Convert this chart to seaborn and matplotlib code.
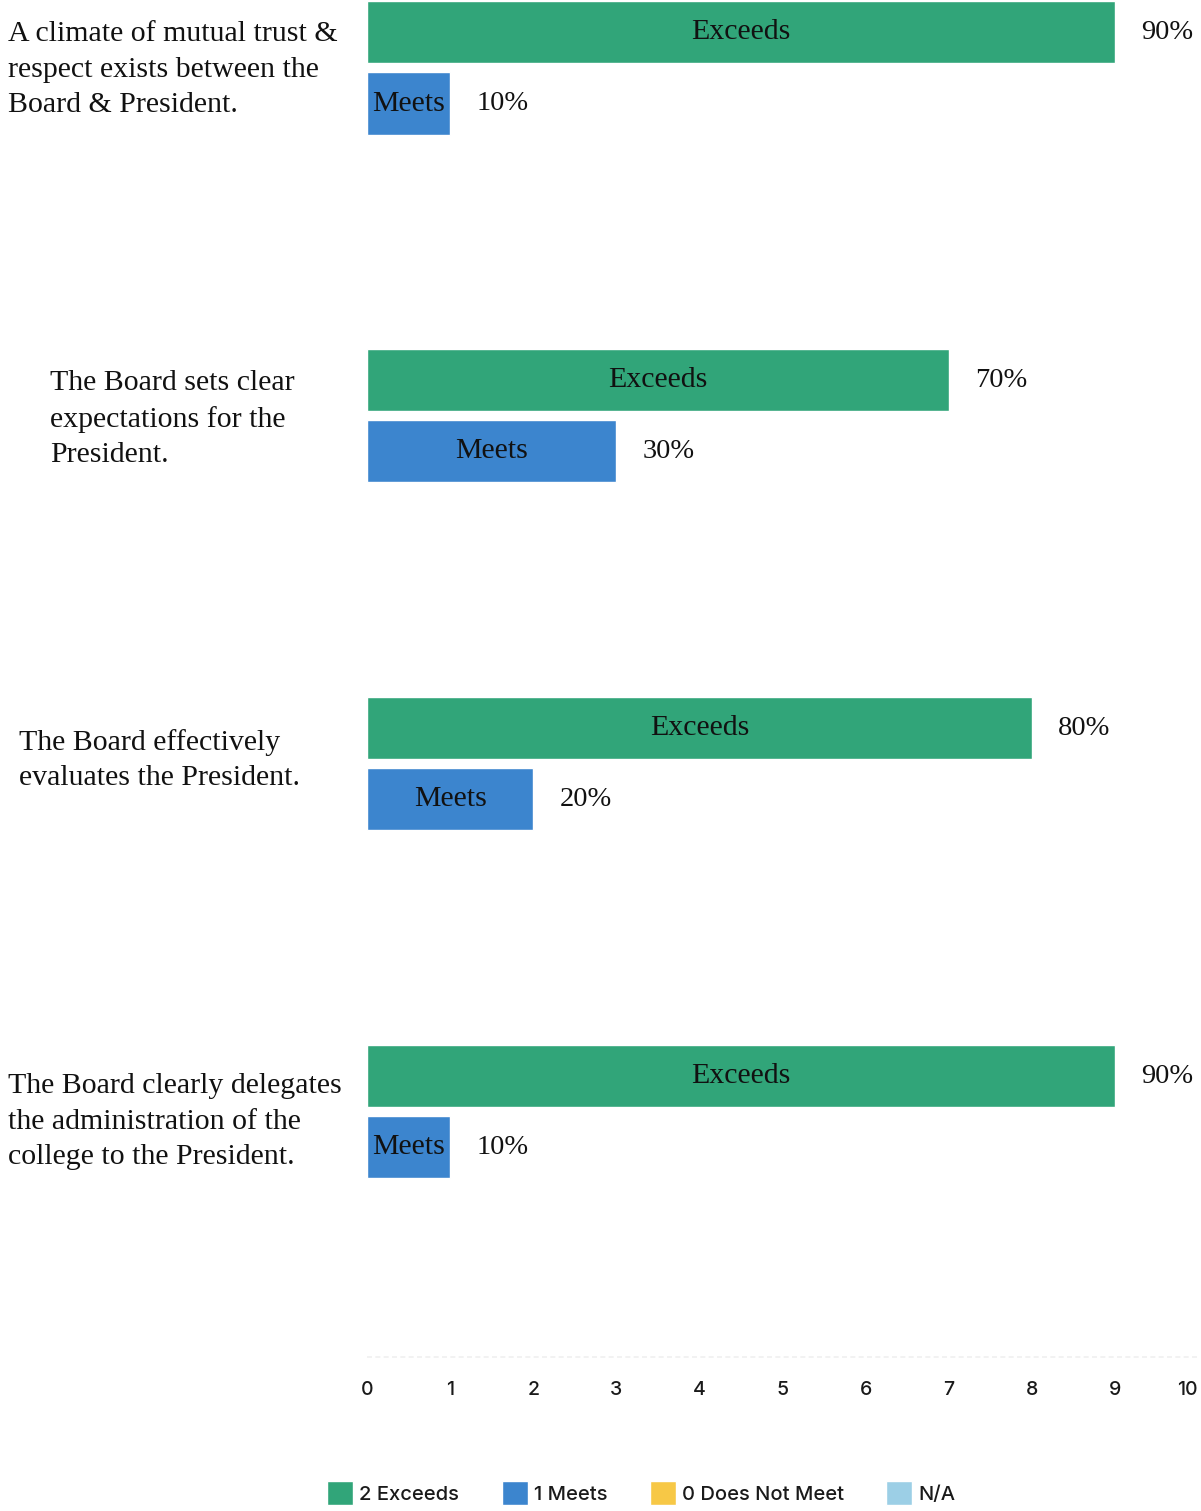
import matplotlib
matplotlib.use("Agg")
import matplotlib.pyplot as plt
import matplotlib.transforms as mtransforms
import seaborn as sns
import pandas as pd

# Survey items (as shown on the left, with line breaks)
questions = [
    "A climate of mutual trust &\nrespect exists between the\nBoard & President.",
    "The Board sets clear\nexpectations for the\nPresident.",
    "The Board effectively\nevaluates the President.",
    "The Board clearly delegates\nthe administration of the\ncollege to the President.",
]
# Rating levels (legend text) and short names written inside the bars
ratings = ["2 Exceeds", "1 Meets", "0 Does Not Meet", "N/A"]
short_names = ["Exceeds", "Meets", "Does Not Meet", "N/A"]
# Number of respondents per rating for each item (10 respondents)
exceeds = [9, 7, 8, 9]
meets = [1, 3, 2, 1]
does_not_meet = [0, 0, 0, 0]
not_applicable = [0, 0, 0, 0]
respondents = 10
x_ticks = list(range(0, 11))

palette = ["#31a579", "#3c85ce", "#f7c846", "#9ccfe6"]

rows = []
for i, q in enumerate(questions):
    for r, vals in zip(ratings, [exceeds, meets, does_not_meet, not_applicable]):
        rows.append({"question": q, "rating": r, "count": vals[i]})
df = pd.DataFrame(rows)

sns.set_theme(style="white")
plt.rcParams["font.family"] = ["Liberation Serif", "DejaVu Serif"]

W, H = 1201, 1511
fig = plt.figure(figsize=(W / 100, H / 100), dpi=100)
ax_left, ax_right = 367 / W, 1198 / W
ax_bottom, ax_top = (H - 1357) / H, 1.0
ax = fig.add_axes([ax_left, ax_bottom, ax_right - ax_left, ax_top - ax_bottom])

sns.barplot(
    data=df, y="question", x="count", hue="rating", hue_order=ratings,
    order=questions, palette=palette, orient="h", width=0.82, gap=0.13,
    saturation=1, ax=ax, legend=True,
)

ax.set_xlim(0, 10)
ax.set_ylim(3.5, -0.4)
ax.set_xticks(x_ticks)
ax.set_xticklabels([str(t) for t in x_ticks], fontfamily="Inter",
                   fontsize=14, fontweight="medium", color="#1a1a1a")
ax.get_xticklabels()[-1].set_horizontalalignment("right")
ax.tick_params(axis="x", length=0, pad=17)
ax.set_yticks([])
ax.set_xlabel("")
ax.set_ylabel("")
for s in ax.spines.values():
    s.set_visible(False)
ax.axhline(3.5, color="#f0f0f0", lw=1.2, ls=(0, (3, 2)), clip_on=False)

# Labels inside and beside each bar
for container, name in zip(ax.containers, short_names):
    vals = [b.get_width() for b in container]
    inner = [name if v > 0 else "" for v in vals]
    outer = [f"{v / respondents:.0%}" if v > 0 else "" for v in vals]
    ax.bar_label(container, labels=inner, label_type="center",
                 fontsize=21.5, color="#111111")
    ax.bar_label(container, labels=outer, padding=19,
                 fontsize=20.5, color="#111111")

# Item texts to the left of the bars
label_x = [8, 50, 19, 8]
label_dy = [-0.20, -0.196, -0.215, -0.176]
trans = mtransforms.blended_transform_factory(fig.transFigure, ax.transData)
for i, (q, lx, dy) in enumerate(zip(questions, label_x, label_dy)):
    ax.text(lx / W, i + dy, q, transform=trans, ha="left", va="center",
            fontsize=21.5, color="#111111", linespacing=1.47)

# Legend along the bottom
sns.move_legend(
    ax, loc="center left", bbox_to_anchor=(309 / W, (H - 1493) / H),
    bbox_transform=fig.transFigure, ncol=4, frameon=False, title=None,
    handlelength=1.3, handleheight=1.4, handletextpad=0.3,
    columnspacing=2.1,
    prop={"family": "Inter", "size": 14.5, "weight": "medium"},
)
leg = ax.get_legend()
for t in leg.get_texts():
    t.set_color("#1a1a1a")

fig.savefig("out.png", dpi=100, facecolor="white")
